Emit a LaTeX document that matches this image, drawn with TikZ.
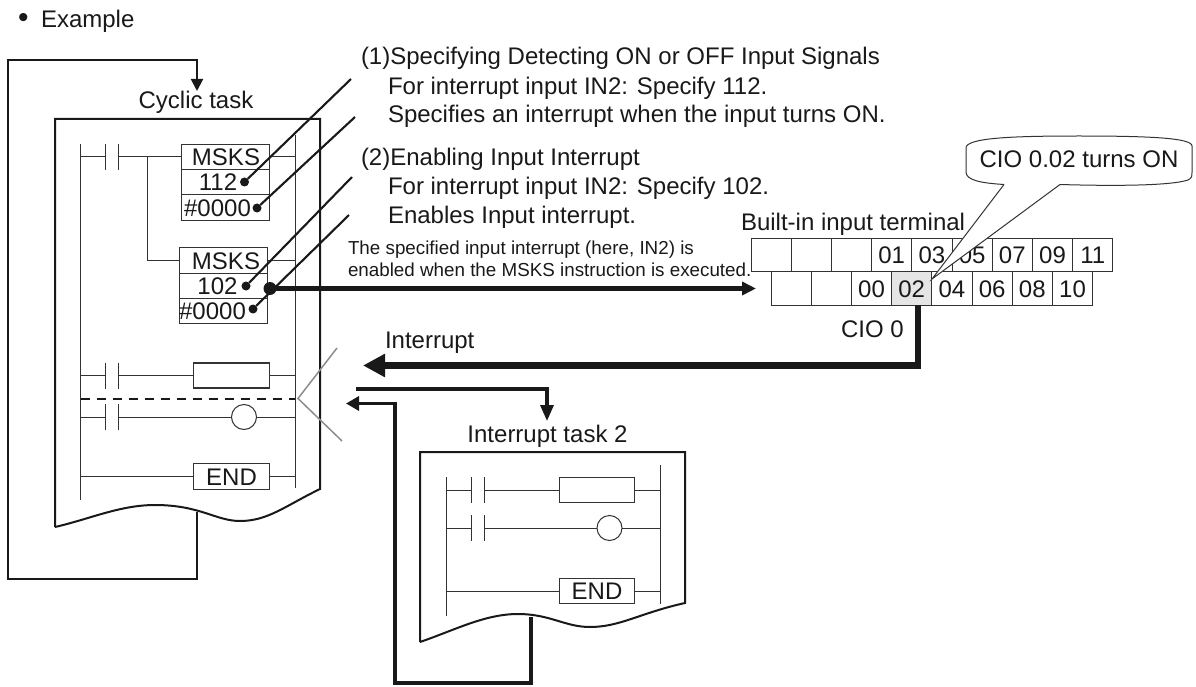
\documentclass[tikz,border=0pt]{standalone}
\usepackage{fontspec}
\setmainfont{Liberation Sans}
\usetikzlibrary{positioning,arrows.meta}

\begin{document}
\begin{tikzpicture}[
  x=1pt, y=-1pt,
  node distance=0pt,
  every node/.style={inner sep=0pt, outer sep=0pt, text=black!90},
  label/.style={font=\fontsize{24}{26}\selectfont, text height=17pt, text depth=4pt},
  txt/.style={label, anchor=west},
  smalltxt/.style={anchor=west, font=\fontsize{18.8}{21}\selectfont, text height=14pt, text depth=4pt},
  page/.style={draw=black!90, line width=2pt, line join=miter},
  wire/.style={draw=black!80, line width=1pt},
  box/.style={wire, fill=white, minimum width=88pt, minimum height=25.3pt,
    font=\fontsize{24}{26}\selectfont, text height=17pt, text depth=0pt},
  coilbox/.style={box, minimum width=75.5pt},
  coil/.style={wire, circle, minimum size=25pt},
  contact/.style={minimum width=13pt, minimum height=26pt,
    append after command={(\tikzlastnode.north west) edge[wire] (\tikzlastnode.south west)
      (\tikzlastnode.north east) edge[wire] (\tikzlastnode.south east)}},
  cell/.style={wire, minimum width=40.2pt, minimum height=33.5pt,
    font=\fontsize{24}{26}\selectfont, text height=17pt, text depth=0pt},
  dot/.style={circle, fill=black!90, minimum size=9pt},
  pointer/.style={draw=black!90, line width=2.1pt},
  flow/.style={draw=black!90, line join=miter}
]
  \useasboundingbox (0,0) rectangle (1196,687);

  % headline
  \node (bullet) [txt, font=\fontsize{30}{30}\selectfont] at (18,21.5) {\textbullet};
  \node (example) [txt] at (41,21.5) {Example};

  % cyclic task page
  \node (cyclic) [label] at (196,102.5) {Cyclic task};
  \coordinate (cycpeak) at (197,512);
  \draw[flow, line width=2pt] (cycpeak) -- (197,579) -- (8,579) -- (8,60) -- (197,60)
    -- (197,79);
  \draw[flow, line width=2pt, -{Triangle[length=12pt, width=12pt]}] (197,60) -- (197,91);
  \draw[page] (55,527) -- (55,119) -- (320,119) -- (320,489)
    .. controls (285,506) and (268,521) .. (240,521)
    .. controls (216,521) and (200,505) .. (155,505)
    .. controls (120,505) and (90,519) .. (55,527);

  \coordinate (railL) at (80.5,144);
  \coordinate (railLb) at (80.5,500);
  \coordinate (railR) at (295,135);
  \coordinate (railRb) at (295,488);
  \draw[wire] (railL) -- (railLb);
  \draw[wire] (railR) -- (railRb);

  % first MSKS
  \node (cont1) [contact] at (112,157) {};
  \node (msks1) [box] at (225,157) {\hspace{2pt}MSKS};
  \node (n112) [box, below=of msks1] {112\kern14pt};
  \node (c112) [box, below=of n112] {\#0000\kern15pt};
  \draw[wire] (railL |- cont1) -- (cont1.west);
  \draw[wire] (cont1.east) -- (msks1.west);
  \draw[wire] (msks1.east) -- (railR |- msks1);

  % second MSKS
  \node (msks2) [box] at (223,260.5) {\hspace{6pt}MSKS};
  \node (n102) [box, below=of msks2] {102\kern11pt};
  \node (c102) [box, below=of n102] {\#0000\kern21pt};
  \coordinate (branch) at (147,157);
  \draw[wire] (branch) |- (msks2.west);
  \draw[wire] (msks2.east) -- (railR |- msks2);

  % rungs
  \node (cont2) [contact] at (112,375.5) {};
  \node (coil1) [coilbox, line width=1.4pt] at (231.5,375.5) {};
  \draw[wire] (railL |- cont2) -- (cont2.west);
  \draw[wire] (cont2.east) -- (coil1.west);
  \draw[wire] (coil1.east) -- (railR |- coil1);

  \coordinate (breakL) at (80.5,398.5);
  \coordinate (breakR) at (295,398.5);
  \draw[draw=black!90, line width=2pt, dash pattern=on 9.5pt off 6.5pt] (breakL) -- (breakR);

  \node (cont3) [contact] at (112,417) {};
  \node (coil2) [coil] at (244,417) {};
  \draw[wire] (railL |- cont3) -- (cont3.west);
  \draw[wire] (cont3.east) -- (coil2.west);
  \draw[wire] (coil2.east) -- (railR |- coil2);

  \node (end1) [coilbox] at (231.5,476.5) {END};
  \draw[wire] (railL |- end1) -- (end1.west);
  \draw[wire] (end1.east) -- (railR |- end1);

  % grey break mark
  \draw[draw=black!45, line width=1.5pt] (337,348) -- (298,398.5) -- (342,441);

  % notes
  \node (note1) [txt] at (361,58.5) {(1)Specifying Detecting ON or OFF Input Signals};
  \node (note1a) [txt] at (388,88.5) {For interrupt input IN2: Specify 112.};
  \node (note1b) [txt] at (388,116.5) {Specifies an interrupt when the input turns ON.};
  \node (note2) [txt] at (361,159.5) {(2)Enabling Input Interrupt};
  \node (note2a) [txt] at (388,188.5) {For interrupt input IN2: Specify 102.};
  \node (note2b) [txt] at (388,217) {Enables Input interrupt.};
  \node (small1) [smalltxt] at (348,249) {The specified input interrupt (here, IN2) is};
  \node (small2) [smalltxt] at (348,271) {enabled when the MSKS instruction is executed.};

  % pointers
  \node (dot1) [dot] at (244.5,182) {};
  \node (dot2) [dot] at (257,208) {};
  \node (dot3) [dot] at (246,286) {};
  \node (dot4) [dot] at (253,309) {};
  \coordinate (tip1) at (351,79);
  \coordinate (tip2) at (355,117);
  \coordinate (tip3) at (352,177);
  \coordinate (tip4) at (349,215);
  \draw[pointer] (tip1) -- (dot1);
  \draw[pointer] (tip2) -- (dot2);
  \draw[pointer] (tip3) -- (dot3);
  \draw[pointer] (tip4) -- (dot4);

  % input terminal
  \node (terminal) [txt] at (741,223.5) {Built-in input terminal};
  \foreach \name/\lab [count=\i from 0] in {t0/,t1/,t2/,t01/01,t03/03,t05/05,t07/07,t09/09,t11/11}
    \node (\name) [cell] at (771.1+40.2*\i,255) {\lab};
  \foreach \name/\lab/\shade [count=\i from 0] in {b0//white,b1//white,b00/00/white,b02/02/black!10,b04/04/white,b06/06/white,b08/08/white,b10/10/white}
    \node (\name) [cell, fill=\shade] at (791.1+40.2*\i,288.5) {\lab};
  \node (cio) [txt] at (841,330.5) {CIO 0};

  % balloon
  \draw[wire, fill=white, line join=miter] (1004,184.5) -- (932,279) -- (1060,184.5)
    .. controls (1110,186) and (1170,186) .. (1188,180)
    .. controls (1192,178) and (1192,176) .. (1192,172)
    -- (1192,146)
    .. controls (1192,138) and (1150,136) .. (1079,136)
    .. controls (1010,136) and (966,138) .. (966,148)
    -- (966,172)
    .. controls (966,180) and (980,183) .. (1004,184.5);
  \node (ballon) [label] at (1079,161.5) {CIO 0.02 turns ON};

  % big arrows
  \node (bigdot) [dot, minimum size=13pt] at (270,288.5) {};
  \coordinate (termin) at (756,288.5);
  \draw[flow, line width=4.8pt, -{Triangle[length=14pt, width=13pt]}] (bigdot.center) -- (termin);
  \coordinate (sig) at (918,305);
  \draw[flow, line width=6.8pt, -{Triangle[length=22pt, width=22pt]}] (sig) -- (918,365.5) -- (363,365.5);
  \node (interrupt) [txt] at (385,341.5) {Interrupt};

  % interrupt task page
  \node (inttask) [label] at (547.5,435.5) {Interrupt task 2};
  \draw[flow, line width=3.3pt, -{Triangle[length=16pt, width=13pt]}] (356,389) -- (547,389) -- (547,421);
  \coordinate (intpeak) at (531,617);
  \draw[flow, line width=3.8pt, -{Triangle[length=13pt, width=14pt]}] (intpeak) -- (531,683) -- (395,683) -- (395,403.5) -- (346,403.5);
  \draw[page] (420,642) -- (420,452) -- (685,452) -- (685,603)
    .. controls (640,613) and (620,627) .. (590,627)
    .. controls (565,627) and (550,614) .. (518,614)
    .. controls (485,614) and (455,630) .. (420,642);

  \coordinate (rail2L) at (446,477);
  \coordinate (rail2Lb) at (446,616);
  \coordinate (rail2R) at (660,465);
  \coordinate (rail2Rb) at (660,604);
  \draw[wire] (rail2L) -- (rail2Lb);
  \draw[wire] (rail2R) -- (rail2Rb);

  \node (cont4) [contact] at (477.5,490) {};
  \node (coil3) [coilbox] at (597,490) {};
  \draw[wire] (rail2L |- cont4) -- (cont4.west);
  \draw[wire] (cont4.east) -- (coil3.west);
  \draw[wire] (coil3.east) -- (rail2R |- coil3);

  \node (cont5) [contact] at (477.5,528) {};
  \node (coil4) [coil] at (609.5,528) {};
  \draw[wire] (rail2L |- cont5) -- (cont5.west);
  \draw[wire] (cont5.east) -- (coil4.west);
  \draw[wire] (coil4.east) -- (rail2R |- coil4);

  \node (end2) [coilbox] at (597,591) {END};
  \draw[wire] (rail2L |- end2) -- (end2.west);
  \draw[wire] (end2.east) -- (rail2R |- end2);
\end{tikzpicture}
\end{document}
